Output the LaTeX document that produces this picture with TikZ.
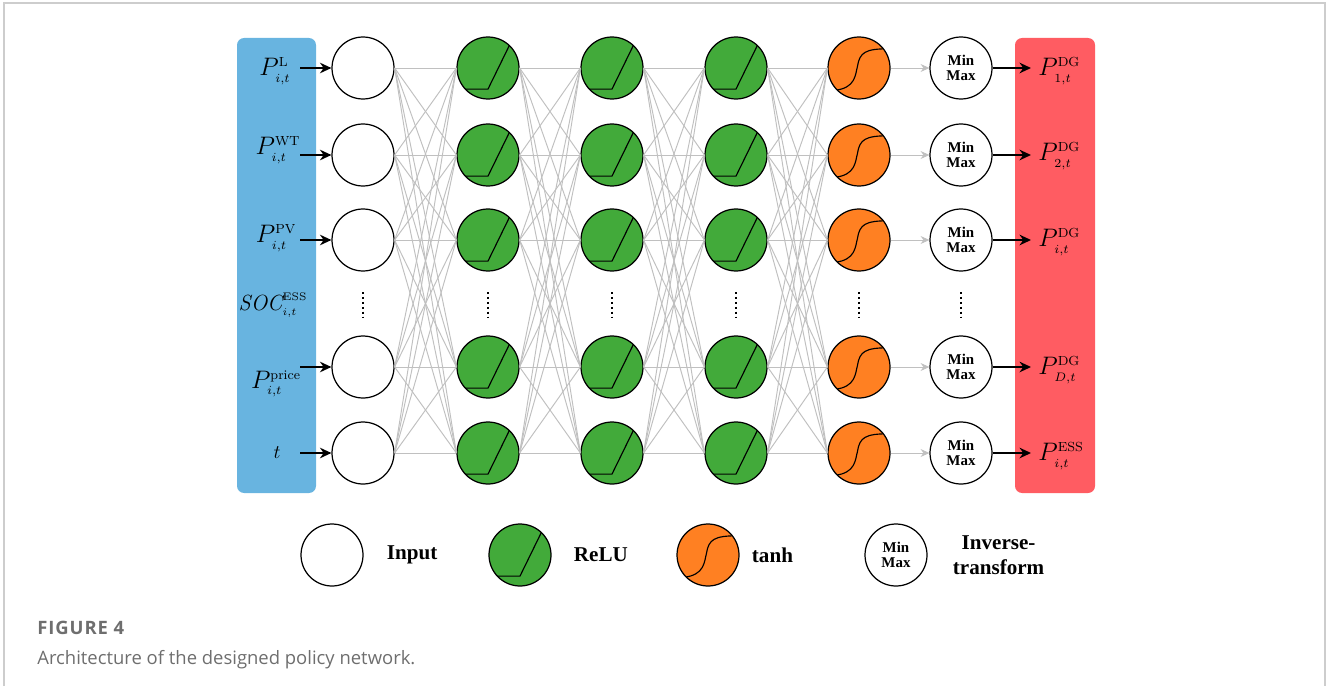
\documentclass[tikz,border=0pt]{standalone}
\usepackage{fontspec}
\newfontfamily\captionfont{Open Sans}
\newfontfamily\labelfont{Liberation Serif}
\usepackage{xcolor}
\usetikzlibrary{positioning, arrows.meta}
\definecolor{inblue}{RGB}{104,180,224}
\definecolor{outred}{RGB}{255,92,98}
\definecolor{relugreen}{RGB}{66,170,58}
\definecolor{tanhorange}{RGB}{255,128,34}
\definecolor{linkgray}{RGB}{192,192,192}
\definecolor{capgray}{RGB}{110,110,110}
\definecolor{framegray}{RGB}{205,205,205}
\tikzstyle{neuron} = [circle, minimum size=1.24cm, inner sep=0pt, draw=black, line width=0.7pt, fill=white]
\tikzstyle{relu} = [neuron, fill=relugreen, path picture={\draw[line width=0.65pt, shift={(path picture bounding box.center)}, x=0.62cm, y=0.62cm] (-0.8,-0.68) -- (0,-0.68) -- (0.7,0.75);}]
\tikzstyle{tanh} = [neuron, fill=tanhorange, path picture={\draw[line width=0.65pt, shift={(path picture bounding box.center)}, x=0.62cm, y=0.62cm] (-0.8,-0.72) .. controls (-0.1,-0.66) and (-0.12,-0.2) .. (-0.05,0.05) .. controls (0.02,0.5) and (0.2,0.62) .. (0.95,0.62);}]
\tikzstyle{scaler} = [neuron, font=\labelfont\bfseries\fontsize{8.5}{8.5}\selectfont, align=center]
\tikzstyle{link} = [draw=linkgray, line width=0.55pt]
\tikzstyle{feed} = [-{Stealth[length=6.5pt, width=6pt]}, line width=1.3pt]
\tikzstyle{var} = [inner sep=0pt, font=\fontsize{15}{18}\selectfont]
\tikzstyle{legend} = [inner sep=0pt, font=\labelfont\bfseries\fontsize{12}{14}\selectfont, align=center]

\begin{document}
\begin{tikzpicture}[x=0.02cm, y=-0.02cm]
	\useasboundingbox (0,0) rectangle (1328,686);
	\draw[framegray, line width=1.1pt] (4,686) -- (4,3) -- (1325,3) -- (1325,686);

	% input and output panels
	\fill[inblue, rounded corners=4pt] (237,38) rectangle (316,493);
	\fill[outred, rounded corners=4pt] (1015,38) rectangle (1095,493);

	% layers
	\foreach \r/\y in {1/68, 2/155, 3/240, 4/367, 5/453} {
		\node (in\r)[neuron] at (363,\y) {};
		\node (reluA\r)[relu] at (488,\y) {};
		\node (reluB\r)[relu] at (612,\y) {};
		\node (reluC\r)[relu] at (736,\y) {};
		\node (tanh\r)[tanh] at (859,\y) {};
		\node (scale\r)[scaler] at (961,\y) {Min\\Max};
		\coordinate (src\r) at (300,\y);
		\coordinate (dst\r) at (1031,\y);
	}
	\foreach \x in {363, 488, 612, 736, 859, 961}
		\draw[line width=1.4pt, dash pattern=on 1.2pt off 1.6pt] (\x,292) -- (\x,318);

	% full connections between layers
	\foreach \a/\b in {in/reluA, reluA/reluB, reluB/reluC, reluC/tanh}
		\foreach \i in {1,...,5}
			\foreach \j in {1,...,5}
				\draw[link] (\a\i.east) -- (\b\j.west);
	\foreach \r in {1,...,5}
		\draw[link, -{Stealth[length=5pt, width=4.5pt]}] (tanh\r) -- (scale\r);

	% inputs
	\node (pl)[var] at (275,71) {$P_{\scriptscriptstyle i,t}^{\scriptscriptstyle\mathrm{L}}$};
	\node (pwt)[var] at (278,150) {$P_{\scriptscriptstyle i,t}^{\scriptscriptstyle\mathrm{WT}}$};
	\node (ppv)[var] at (276,238) {$P_{\scriptscriptstyle i,t}^{\scriptscriptstyle\mathrm{PV}}$};
	\node (soc)[var, font=\fontsize{12.5}{15}\selectfont] at (273,305) {$\mathit{SOC}_{\scriptscriptstyle i,t}^{\scriptscriptstyle\mathrm{ESS}}$};
	\node (price)[var] at (276,384) {$P_{\scriptscriptstyle i,t}^{\scriptscriptstyle\mathrm{price}}$};
	\node (time)[var] at (277,453) {$\scriptstyle t$};
	\foreach \r in {1,2,3,4,5}
		\draw[feed] (src\r) -- (in\r);

	% outputs
	\foreach \r in {1,...,5}
		\draw[feed] (scale\r) -- (dst\r);
	\node (pdg1)[var, anchor=west] at (1038,71) {$P_{\scriptscriptstyle 1,t}^{\scriptscriptstyle\mathrm{DG}}$};
	\node (pdg2)[var, anchor=west] at (1038,156) {$P_{\scriptscriptstyle 2,t}^{\scriptscriptstyle\mathrm{DG}}$};
	\node (pdgi)[var, anchor=west] at (1038,242) {$P_{\scriptscriptstyle i,t}^{\scriptscriptstyle\mathrm{DG}}$};
	\node (pdgd)[var, anchor=west] at (1038,370) {$P_{\scriptscriptstyle D,t}^{\scriptscriptstyle\mathrm{DG}}$};
	\node (pess)[var, anchor=west] at (1038,456) {$P_{\scriptscriptstyle i,t}^{\scriptscriptstyle\mathrm{ESS}}$};

	% legend
	\node (legIn)[neuron] at (332,555) {};
	\node (legInText)[legend, right=0.46cm of legIn] {Input};
	\node (legRelu)[relu] at (520,555) {};
	\node (legReluText)[legend, right=0.44cm of legRelu] {ReLU};
	\node (legTanh)[tanh] at (708,555) {};
	\node (legTanhText)[legend, right=0.24cm of legTanh] {tanh};
	\node (legScale)[scaler] at (896,555) {Min\\Max};
	\node (legScaleText)[legend, right=0.5cm of legScale] {Inverse-\\transform};

	% caption
	\node (figno)[anchor=west, inner sep=0pt, text=capgray, font=\captionfont\bfseries\fontsize{10.5}{12}\selectfont\addfontfeature{LetterSpace=5}] at (37,628) {FIGURE 4};
	\node (figcap)[anchor=west, inner sep=0pt, text=capgray, font=\captionfont\fontsize{10.5}{12}\selectfont] at (37,660) {Architecture of the designed policy network.};
\end{tikzpicture}
\end{document}
